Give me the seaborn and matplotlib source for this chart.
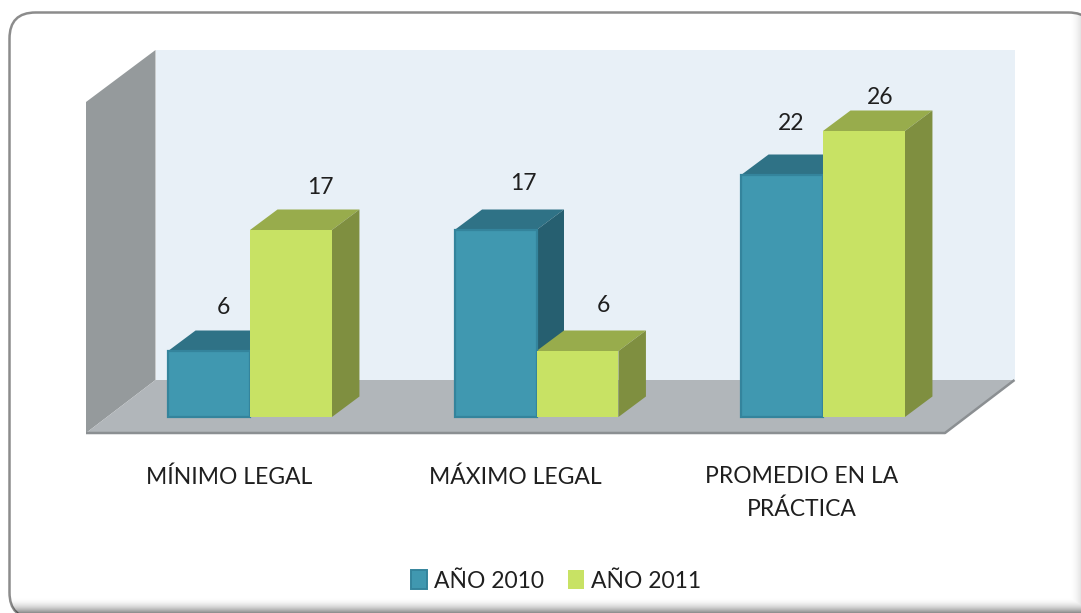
import numpy as np
import pandas as pd
import seaborn as sns
import matplotlib.pyplot as plt
from matplotlib.patches import FancyBboxPatch, Polygon, Patch

categories = ['MÍNIMO LEGAL', 'MÁXIMO LEGAL', 'PROMEDIO EN LA\nPRÁCTICA']
values_2010 = [6, 17, 22]
values_2011 = [17, 6, 26]
series_names = ['AÑO 2010', 'AÑO 2011']

df = pd.DataFrame({
    'categoria': categories * 2,
    'valor': values_2010 + values_2011,
    'serie': [series_names[0]] * 3 + [series_names[1]] * 3,
})

sns.set_theme(style='white')
plt.rcParams['font.family'] = ['Lato', 'DejaVu Sans']

W, H = 1081, 613
PX_X = 286.5  # pixels per category
PX_Y = 11.0   # pixels per unit
FRONT_L, FRONT_R, FRONT_B, WALL_T = 86, 945, 433, 50
BASE = 417

fig = plt.figure(figsize=(W / 100, H / 100), dpi=100, facecolor='white')

# frame drawn in pixel coordinates, it runs off the right and bottom of the picture
bg = fig.add_axes([0, 0, 1, 1])
bg.set_xlim(0, W)
bg.set_ylim(H, 0)
bg.axis('off')
frame = FancyBboxPatch((9.5, 12.5), 1085, 606, boxstyle='round,pad=0,rounding_size=26',
                       fc='white', ec='#8c8c8c', lw=1.8, zorder=1)
bg.add_patch(frame)

# soft inner shadow along the lower and right edges
yy, xx = np.mgrid[0:H, 0:W]
shade = np.maximum(np.clip((yy - 596) / 17, 0, 1) ** 2.2 * 0.5, np.clip((xx - 1068) / 13, 0, 1) ** 2 * 0.12)
rgba = np.zeros((H, W, 4))
rgba[..., 3] = shade
im = bg.imshow(rgba, extent=(0, W, H, 0), aspect='auto', zorder=2, interpolation='bilinear')
im.set_clip_path(frame)
bg.set_xlim(0, W)
bg.set_ylim(H, 0)

ax = fig.add_axes([FRONT_L / W, 1 - FRONT_B / H, (FRONT_R - FRONT_L) / W, (FRONT_B - WALL_T) / H])
ax.patch.set_alpha(0)

sns.barplot(data=df, x='categoria', y='valor', hue='serie', order=categories, hue_order=series_names,
            palette=['#4098b0', '#c8e264'], saturation=1, width=0.572, gap=0, legend=False, ax=ax, zorder=5)

ax.set_xlim((FRONT_L - 250) / PX_X, (FRONT_R - 250) / PX_X)
ax.set_ylim((BASE - FRONT_B) / PX_Y, (BASE - WALL_T) / PX_Y)

# walls and floor, in data units
dx_wall, dy_wall = 69.5 / PX_X, 53 / PX_Y
x0, x1 = ax.get_xlim()
y0, y1 = ax.get_ylim()
ax.add_patch(Polygon([(x0 + dx_wall, y0 + dy_wall), (x1 + dx_wall, y0 + dy_wall), (x1 + dx_wall, y1), (x0 + dx_wall, y1)],
                     fc='#e8f0f7', ec='none', clip_on=False, zorder=0))
ax.add_patch(Polygon([(x0, y0), (x0 + dx_wall, y0 + dy_wall), (x0 + dx_wall, y1), (x0, y1 - 52 / PX_Y)],
                     fc='#959a9c', ec='none', clip_on=False, zorder=1))
ax.add_patch(Polygon([(x0, y0), (x1, y0), (x1 + dx_wall, y0 + dy_wall), (x0 + dx_wall, y0 + dy_wall)],
                     fc='#b1b6ba', ec='none', clip_on=False, zorder=1))
ax.plot([x0, x1, x1 + dx_wall], [y0, y0, y0 + dy_wall], color='#8b8f92', lw=1.8, clip_on=False, zorder=2,
        solid_capstyle='butt')

# depth faces of the bars, built from the seaborn patches
dx, dy = 27.5 / PX_X, 20.5 / PX_Y
top_cols = ['#2f7286', '#98ac4c']
side_cols = ['#265f70', '#7f8f40']
bars = list(ax.patches)[:6]
for i, bar in enumerate(bars):
    s = i // 3
    xl, w, h = bar.get_x(), bar.get_width(), bar.get_height()
    xr = xl + w
    z = 3 + s * 0.5
    ax.add_patch(Polygon([(xl, h), (xl + dx, h + dy), (xr + dx, h + dy), (xr, h)],
                         fc=top_cols[s], ec='none', clip_on=False, zorder=z))
    ax.add_patch(Polygon([(xr, 0), (xr + dx, dy), (xr + dx, h + dy), (xr, h)],
                         fc=side_cols[s], ec='none', clip_on=False, zorder=z))
    if s == 0:
        bar.set_edgecolor('#34849c')
        bar.set_linewidth(1.6)
    else:
        bar.set_edgecolor('none')
    bar.set_zorder(5 + s)

# value labels sit a little off the bar tops (2010 bars first, then 2011)
label_dx = [14, 28, 9, 29, 26, 16]
label_dy = [43, 46, 51, 43, 45, 34]
for bar, ox, oy in zip(bars, label_dx, label_dy):
    ax.annotate(f'{bar.get_height():.0f}', (bar.get_x() + bar.get_width() / 2, bar.get_height()),
                xytext=(ox * 0.72, oy * 0.72), textcoords='offset points', ha='center', va='center',
                fontsize=16.5, color='#1f1f1f', annotation_clip=False, zorder=8)

ax.set_xticks(np.arange(3) - 21 / PX_X, categories, fontsize=16.5, color='#1f1f1f', linespacing=1.65)
ax.tick_params(axis='x', length=0, pad=24)
ax.set_yticks([])
ax.set_xlabel('')
ax.set_ylabel('')
sns.despine(ax=ax, left=True, bottom=True)

handles = [Patch(fc='#4098b0', ec='#34849c', lw=1.4, label=series_names[0]),
           Patch(fc='#c8e264', ec='none', label=series_names[1])]
fig.legend(handles=handles, ncol=2, frameon=False, loc='center', bbox_to_anchor=(556 / W, 1 - 581 / H),
           fontsize=16.5, handlelength=0.72, handleheight=0.85, handletextpad=0.28, columnspacing=1.05,
           labelcolor='#1f1f1f')

fig.savefig('out.png', dpi=100)
